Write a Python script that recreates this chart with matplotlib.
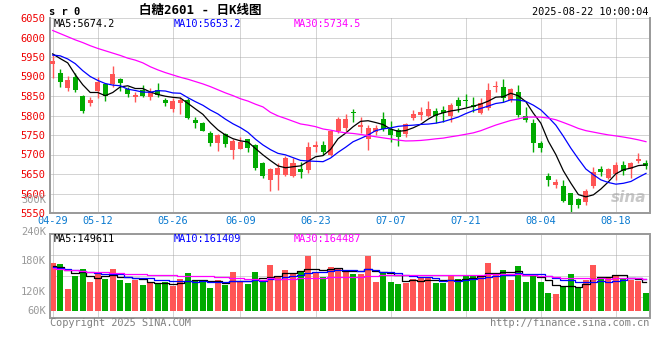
import numpy as np
import pandas as pd
import matplotlib
matplotlib.use("Agg")
import matplotlib.pyplot as plt
from matplotlib.ticker import LinearLocator

plt.rcParams['font.family'] = ['DejaVu Sans Mono', 'Noto Sans CJK SC']

# trading days 04-29 .. 08-22 (exchange holidays removed)
holidays = ["2025-05-01", "2025-05-02", "2025-05-05", "2025-06-02"]
days = pd.bdate_range("2025-04-29", "2025-08-22")
days = days[~days.isin(pd.to_datetime(holidays))]
dates = [d.strftime("%m-%d") for d in days]

opens = [5932, 5908, 5871, 5898, 5850, 5833, 5864, 5882, 5880, 5893,
         5867, 5848, 5865, 5848, 5865, 5840, 5817, 5831, 5840, 5788,
         5781, 5754, 5729, 5753, 5712, 5714, 5739, 5724, 5677, 5635,
         5647, 5647, 5645, 5664, 5659, 5718, 5724, 5699, 5760, 5769,
         5810, 5770, 5739, 5757, 5790, 5765, 5763, 5753, 5793, 5801,
         5799, 5811, 5814, 5799, 5840, 5841, 5827, 5807, 5818, 5874,
         5874, 5840, 5861, 5799, 5780, 5729, 5645, 5622, 5619, 5600,
         5585, 5577, 5618, 5662, 5641, 5650, 5673, 5662, 5683, 5679]
highs = [5955, 5918, 5901, 5910, 5852, 5848, 5898, 5884, 5927, 5895,
         5874, 5861, 5878, 5870, 5884, 5844, 5844, 5847, 5844, 5797,
         5783, 5759, 5753, 5754, 5741, 5744, 5741, 5727, 5680, 5665,
         5679, 5697, 5690, 5682, 5733, 5735, 5735, 5763, 5797, 5804,
         5816, 5797, 5776, 5776, 5810, 5787, 5767, 5780, 5814, 5823,
         5837, 5818, 5825, 5833, 5847, 5854, 5847, 5844, 5884, 5888,
         5893, 5870, 5878, 5823, 5790, 5735, 5652, 5636, 5635, 5602,
         5588, 5611, 5669, 5671, 5665, 5682, 5683, 5682, 5703, 5686]
lows = [5895, 5874, 5864, 5861, 5807, 5825, 5844, 5838, 5874, 5864,
        5847, 5835, 5847, 5840, 5848, 5825, 5810, 5804, 5790, 5769,
        5759, 5722, 5710, 5720, 5688, 5713, 5707, 5660, 5641, 5607,
        5609, 5645, 5643, 5641, 5652, 5707, 5699, 5696, 5754, 5761,
        5784, 5754, 5711, 5750, 5759, 5733, 5722, 5746, 5788, 5788,
        5795, 5780, 5784, 5784, 5810, 5823, 5810, 5804, 5814, 5861,
        5835, 5835, 5797, 5784, 5707, 5707, 5619, 5613, 5579, 5551,
        5562, 5570, 5613, 5645, 5636, 5635, 5647, 5641, 5677, 5662]
closes = [5940, 5887, 5891, 5865, 5812, 5840, 5887, 5850, 5906, 5884,
          5854, 5852, 5850, 5861, 5853, 5831, 5838, 5841, 5793, 5782,
          5761, 5730, 5750, 5727, 5735, 5733, 5716, 5666, 5645, 5662,
          5665, 5692, 5679, 5656, 5720, 5724, 5707, 5759, 5792, 5791,
          5807, 5776, 5767, 5769, 5765, 5750, 5746, 5777, 5804, 5810,
          5816, 5799, 5806, 5827, 5825, 5838, 5823, 5833, 5865, 5876,
          5844, 5867, 5801, 5789, 5729, 5716, 5635, 5630, 5581, 5570,
          5570, 5606, 5656, 5656, 5662, 5673, 5658, 5677, 5688, 5670]
volumes = [246500, 239600, 111300, 179700, 214000, 147200, 188300, 162600, 214000, 157500,
           142100, 157500, 131800, 140400, 142100, 147200, 128400, 162600, 193400, 150600,
           150600, 116400, 157500, 131800, 198600, 147200, 136900, 198600, 147200, 234500,
           179700, 208800, 188300, 203700, 280700, 191700, 174600, 225900, 212300, 208800,
           188300, 188300, 280700, 147200, 195100, 147200, 136900, 142100, 162600, 167700,
           167700, 142100, 142100, 178000, 162600, 184900, 178000, 184900, 246500, 184900,
           208800, 157500, 229400, 147200, 184900, 147200, 90700, 85600, 123200, 188300,
           123200, 157500, 234500, 174600, 169500, 178000, 167700, 157500, 154100, 90700]

# moving-average values before a full window exists
ma5_head = [5958, 5946, 5935, 5905]
ma10_head = [5955, 5953, 5945, 5933, 5915, 5900, 5890, 5882, 5878]
ma30_head = [6018, 6010, 6002, 5994, 5987, 5979, 5972, 5966, 5960, 5954,
             5947, 5942, 5935, 5925, 5917, 5910, 5904, 5898, 5893, 5887,
             5881, 5874, 5866, 5858, 5851, 5843, 5837, 5829, 5822]
vol_ma5_head = [231000, 222500, 208800, 195000]
vol_ma10_head = [226000, 219000, 212000, 207000, 202000, 197000, 193000, 189000, 186000]
vol_ma30_head = [217000, 214000, 211000, 208000, 205000, 201000, 199000, 197000, 195000, 193000,
                 190000, 189000, 187000, 185000, 183000, 181000, 181000, 180000, 180000, 180000,
                 180000, 177000, 175000, 172000, 169000, 166000, 164000, 162000, 160000]

tick_labels = ["04-29", "05-12", "05-26", "06-09", "06-23", "07-07", "07-21", "08-04", "08-18"]
price_ticks = list(range(5550, 6051, 50))
vol_labels = ["300K", "240K", "180K", "120K", "60K"]
vol_label_y = [1.405, 1.024, 0.679, 0.31, 0.083]   # axes fraction, as placed on the original

RED = "#ff5555"
GREEN = "#00aa00"
GRID = "#aaaaaa"
BORDER = "#999999"


def moving_avg(values, n, head):
    s = pd.Series(values, dtype=float).rolling(n).mean()
    s.iloc[:len(head)] = head
    return s.values


fig = plt.figure(figsize=(6.6, 3.6), dpi=100)
ax = fig.add_axes([50.5 / 660, 1 - 213 / 360, 599 / 660, 195 / 360])
axv = fig.add_axes([50.5 / 660, 1 - 318 / 360, 599 / 660, 84 / 360])

x = np.arange(len(closes))
o = np.array(opens, float)
c = np.array(closes, float)
up = c >= o
colors = np.where(up, RED, GREEN)

# candles
ax.vlines(x, lows, highs, colors=colors, lw=1.0, zorder=2)
ax.bar(x, np.maximum(np.abs(c - o), 2.5), bottom=np.minimum(o, c), width=0.67,
       color=colors, lw=0, zorder=3)
ax.plot(x, moving_avg(closes, 5, ma5_head), color="black", lw=0.9, zorder=4)
ax.plot(x, moving_avg(closes, 10, ma10_head), color="#0000ff", lw=0.9, zorder=4)
ax.plot(x, moving_avg(closes, 30, ma30_head), color="#ff00ff", lw=0.9, zorder=4)

ax.set_xlim(-0.29, 79.47)
ax.set_ylim(5550, 6050)
ax.set_yticks(price_ticks)
ax.set_xticks([dates.index(d) for d in tick_labels])
ax.set_xticklabels(tick_labels)
ax.tick_params(axis="y", length=0, pad=3.5, labelcolor="#ee0000", labelsize=7.5)
ax.tick_params(axis="x", length=0, pad=2.5, labelcolor="#0a7ad0", labelsize=7.4)
ax.grid(True, color=GRID, lw=0.72, ls=(0, (1, 1)))
ax.spines["top"].set_visible(False)
for s in ["left", "right", "bottom"]:
    ax.spines[s].set_color(BORDER)
    ax.spines[s].set_linewidth(1.4)

ax.text(0.995, 0.04, "sina", transform=ax.transAxes, ha="right", va="bottom",
        color="#c8c8c8", fontsize=11, fontweight="bold", style="italic",
        family="DejaVu Sans", zorder=1)

# volume
axv.bar(x, volumes, width=0.8, color=colors, lw=0, zorder=2)
axv.plot(x, moving_avg(volumes, 5, vol_ma5_head), color="black", lw=0.9,
         drawstyle="steps-mid", zorder=3)
axv.plot(x, moving_avg(volumes, 10, vol_ma10_head), color="#0000ff", lw=0.9,
         drawstyle="steps-mid", zorder=3)
axv.plot(x, moving_avg(volumes, 30, vol_ma30_head), color="#ff00ff", lw=0.9,
         drawstyle="steps-mid", zorder=3)
axv.set_xlim(-0.29, 79.47)
axv.set_ylim(-37500, 394000)
axv.yaxis.set_major_locator(LinearLocator(5))
axv.set_xticks([dates.index(d) for d in tick_labels])
axv.tick_params(length=0, labelleft=False, labelbottom=False)
axv.grid(True, color=GRID, lw=0.72, ls=(0, (1, 1)))
for s in axv.spines.values():
    s.set_color(BORDER)
    s.set_linewidth(1.4)
for lab, fy in zip(vol_labels, vol_label_y):
    axv.text(-4.5 / 599, fy, lab, transform=axv.transAxes, ha="right", va="center",
             color="#999999", fontsize=7.5, clip_on=False)

# header texts
fig.text(49 / 660, 1 - 12 / 360, "s r 0", fontsize=7.5, fontweight="bold", va="center")
fig.text(200 / 660, 1 - 10 / 360, "白糖2601 - 日K线图", fontsize=9, fontweight="bold",
         ha="center", va="center")
fig.text(648 / 660, 1 - 12 / 360, "2025-08-22 10:00:04", fontsize=7.4, ha="right", va="center")

leg = [("MA5:5674.2", "black"), ("MA10:5653.2", "#0000ff"), ("MA30:5734.5", "#ff00ff")]
for k, (t, col) in enumerate(leg):
    ax.text((54 + 120 * k - 50.5) / 599, 1 - 6 / 195, t, transform=ax.transAxes,
            color=col, fontsize=7.4, va="center")
vleg = [("MA5:149611", "black"), ("MA10:161409", "#0000ff"), ("MA30:164487", "#ff00ff")]
for k, (t, col) in enumerate(vleg):
    axv.text((54 + 120 * k - 50.5) / 599, 1 - 4.5 / 84, t, transform=axv.transAxes,
             color=col, fontsize=7.4, va="center")

fig.text(50 / 660, 1 - 323 / 360, "Copyright 2025 SINA.COM", fontsize=7.4,
         color="#808080", va="center")
fig.text(649 / 660, 1 - 323 / 360, "http://finance.sina.com.cn", fontsize=7.4,
         color="#808080", ha="right", va="center")

fig.savefig("out.png", dpi=100)
